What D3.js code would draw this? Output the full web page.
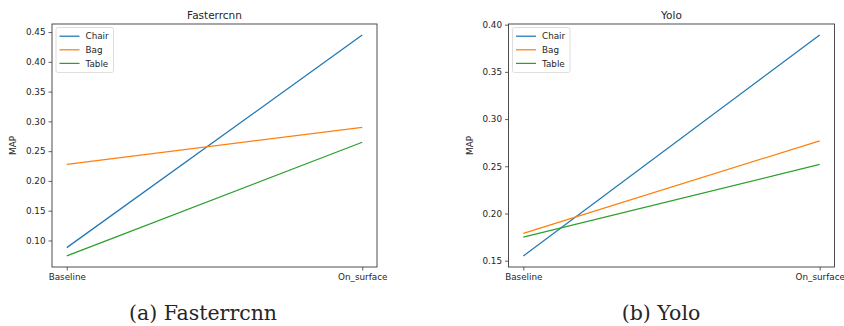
<!DOCTYPE html>
<html>
<head>
<meta charset="utf-8">
<script src="https://cdn.jsdelivr.net/npm/d3@7"></script>
<style>
  body { margin: 0; background: #fff; }
  text { font-family: "DejaVu Sans", sans-serif; fill: #262626; }
</style>
</head>
<body>
<div id="chart"></div>
<script>
const categories = ['Baseline', 'On_surface'];
const seriesNames = ['Chair', 'Bag', 'Table'];
const colors = ['#1f77b4', '#ff7f0e', '#2ca02c'];

// MAP values
const fasterrcnnChair = [0.088, 0.445];
const fasterrcnnBag = [0.228, 0.290];
const fasterrcnnTable = [0.074, 0.265];

const yoloChair = [0.155, 0.389];
const yoloBag = [0.179, 0.277];
const yoloTable = [0.175, 0.252];

const fasterrcnnTicks = [0.10, 0.15, 0.20, 0.25, 0.30, 0.35, 0.40, 0.45];
const yoloTicks = [0.15, 0.20, 0.25, 0.30, 0.35, 0.40];

const panels = [
  { title: 'Fasterrcnn', caption: '(a) Fasterrcnn', series: [fasterrcnnChair, fasterrcnnBag, fasterrcnnTable],
    ticks: fasterrcnnTicks, left: 52, right: 377, captionX: 203 },
  { title: 'Yolo', caption: '(b) Yolo', series: [yoloChair, yoloBag, yoloTable],
    ticks: yoloTicks, left: 508.5, right: 834.5, captionX: 661 },
];

const W = 844, H = 326;
const plotTop = 24, plotBottom = 267;

const svg = d3.select('#chart').append('svg')
  .attr('width', W)
  .attr('height', H);

function drawPanel(p) {
  const g = svg.append('g');

  const x = d3.scalePoint()
    .domain(categories)
    .range([p.left, p.right])
    .padding(0.05);

  // matplotlib-style 5% margin around the data
  const all = p.series.flat();
  const [lo, hi] = d3.extent(all);
  const m = (hi - lo) * 0.05;
  const y = d3.scaleLinear().domain([lo - m, hi + m]).range([plotBottom, plotTop]);

  const line = d3.line()
    .x((d, i) => x(categories[i]))
    .y(d => y(d));

  g.selectAll('path.series')
    .data(p.series)
    .enter()
    .append('path')
    .attr('class', 'series')
    .attr('fill', 'none')
    .attr('stroke', (d, i) => colors[i])
    .attr('stroke-width', 1.25)
    .attr('d', d => line(d));

  // frame
  g.append('rect')
    .attr('x', p.left)
    .attr('y', plotTop)
    .attr('width', p.right - p.left)
    .attr('height', plotBottom - plotTop)
    .attr('fill', 'none')
    .attr('stroke', '#3a3a3a')
    .attr('stroke-width', 0.9);

  const xAxis = d3.axisBottom(x).tickSize(3.5).tickPadding(3);
  const gx = g.append('g')
    .attr('transform', `translate(0, ${plotBottom})`)
    .call(xAxis);
  gx.select('.domain').remove();

  const yAxis = d3.axisLeft(y).tickValues(p.ticks).tickFormat(d3.format('.2f')).tickSize(3.5).tickPadding(3);
  const gy = g.append('g')
    .attr('transform', `translate(${p.left}, 0)`)
    .call(yAxis);
  gy.select('.domain').remove();

  [gx, gy].forEach(a => {
    a.selectAll('.tick line').attr('stroke', '#3a3a3a').attr('stroke-width', 0.8);
    a.selectAll('.tick text').style('font-size', '8.8px').attr('fill', '#262626');
  });

  g.append('text')
    .attr('x', (p.left + p.right) / 2)
    .attr('y', 19)
    .attr('text-anchor', 'middle')
    .style('font-size', '10.5px')
    .text(p.title);

  g.append('text')
    .attr('transform', `translate(${p.left - 36}, ${(plotTop + plotBottom) / 2}) rotate(-90)`)
    .attr('text-anchor', 'middle')
    .style('font-size', '8.8px')
    .text('MAP');

  // legend
  const lx = p.left + 4, ly = plotTop + 3.5;
  g.append('rect')
    .attr('x', lx)
    .attr('y', ly)
    .attr('width', 57.5)
    .attr('height', 45)
    .attr('rx', 2)
    .attr('fill', 'rgba(255,255,255,0.8)')
    .attr('stroke', '#d6d6d6')
    .attr('stroke-width', 0.8);

  const items = g.selectAll('g.legend')
    .data(seriesNames)
    .enter()
    .append('g')
    .attr('class', 'legend')
    .attr('transform', (d, i) => `translate(${lx}, ${ly + 8.7 + i * 13.6})`);

  items.append('line')
    .attr('x1', 3.5)
    .attr('x2', 23.5)
    .attr('stroke', (d, i) => colors[i])
    .attr('stroke-width', 1.25);

  items.append('text')
    .attr('x', 29.5)
    .attr('y', 3.2)
    .style('font-size', '8.8px')
    .text(d => d);

  svg.append('text')
    .attr('x', p.captionX)
    .attr('y', 320)
    .attr('text-anchor', 'middle')
    .style('font-family', '"DejaVu Serif", serif')
    .style('font-size', '20.5px')
    .attr('fill', '#000')
    .text(p.caption);
}

panels.forEach(drawPanel);
</script>
</body>
</html>
